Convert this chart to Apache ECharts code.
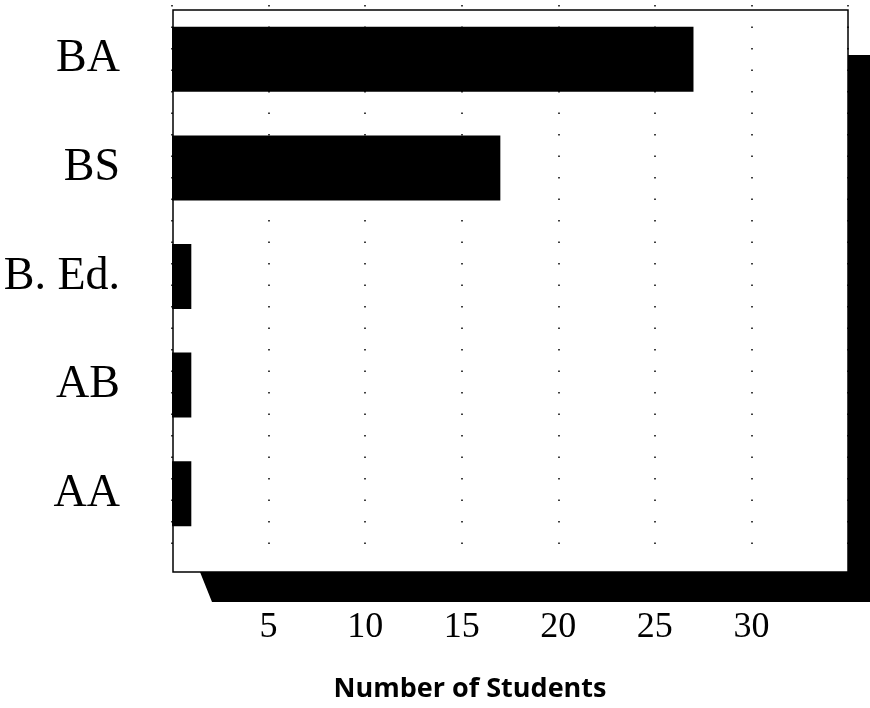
<!DOCTYPE html>
<html>
<head>
<meta charset="utf-8">
<title>Number of Students by Degree</title>
<script src="https://cdn.jsdelivr.net/npm/echarts@6/dist/echarts.min.js"></script>
<style>
  html, body { margin: 0; padding: 0; background: #fff; }
  #chart { width: 870px; height: 708px; }
</style>
</head>
<body>
<div id="chart"></div>
<script>
// 数据 — 学位类别 (从上到下) 与人数
var degrees = ['BA', 'BS', 'B. Ed.', 'AB', 'AA'];
var students = [27, 17, 1, 1, 1];
var xTicks = [5, 10, 15, 20, 25, 30];

var chart = echarts.init(document.getElementById('chart'));

var option = {
  backgroundColor: '#fff',
  animation: false,
  grid: { left: 172, right: 22, top: 5, height: 555 },
  xAxis: {
    type: 'value',
    min: 0,
    max: 35,
    interval: 5,
    name: 'Number of Students',
    nameLocation: 'middle',
    nameGap: 128,
    // 标题略偏左
    nameTextStyle: { fontFamily: 'Open Sans', fontWeight: 'bold', fontSize: 27, color: '#000', padding: [0, 80, 0, 0] },
    axisLine: { show: false },
    axisTick: { show: false },
    axisLabel: {
      margin: 62,
      fontFamily: 'Liberation Serif',
      fontSize: 36,
      color: '#000',
      formatter: function(v) { return xTicks.indexOf(v) >= 0 ? String(v) : ''; }
    },
    splitLine: { show: true, lineStyle: { color: '#000', width: 1.5, type: [1.5, 20] } }
  },
  yAxis: {
    type: 'category',
    data: degrees,
    inverse: true,
    axisLine: { show: false },
    axisTick: { show: false },
    axisLabel: { margin: 52, fontFamily: 'Liberation Serif', fontSize: 46, color: '#000' },
    splitLine: { show: false }
  },
  // 边框与阴影 (装饰)
  graphic: [
    {
      type: 'polygon',
      z: -1,
      shape: { points: [[848, 55], [870, 55], [870, 602], [212, 602], [200, 572], [848, 572]] },
      style: { fill: '#000' }
    },
    {
      type: 'rect',
      z: 5,
      shape: { x: 173, y: 10, width: 675, height: 562 },
      style: { fill: null, stroke: '#000', lineWidth: 1.5 }
    }
  ],
  series: [{
    type: 'bar',
    data: students,
    barWidth: 65,
    itemStyle: { color: '#000' }
  }]
};

chart.setOption(option);
</script>
</body>
</html>
